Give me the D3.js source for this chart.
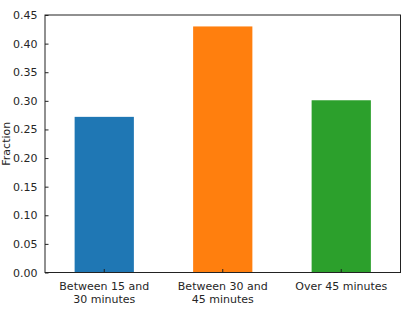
<!DOCTYPE html>
<html>
<head>
<meta charset="utf-8">
<script src="https://cdn.jsdelivr.net/npm/d3@7"></script>
<style>
  body { margin: 0; background: #fff; }
  svg text { font-family: "DejaVu Sans", sans-serif; fill: #262626; }
</style>
</head>
<body>
<div id="chart"></div>
<script>
// Commute time categories and their share
const categories = [["Between 15 and", "30 minutes"], ["Between 30 and", "45 minutes"], ["Over 45 minutes"]];
const fractions = [0.272, 0.43, 0.301];
const barColors = ["#1f77b4", "#ff7f0e", "#2ca02c"];
const yTicks = [0, 0.05, 0.1, 0.15, 0.2, 0.25, 0.3, 0.35, 0.4, 0.45];

const width = 415, height = 312;
const margin = {top: 15, right: 14.5, bottom: 39.5, left: 45};
const fontSize = 11;

const svg = d3.select('#chart').append('svg')
  .attr('width', width)
  .attr('height', height);

const x = d3.scaleBand()
  .domain(d3.range(categories.length))
  .range([margin.left, width - margin.right])
  .paddingInner(0.5)
  .paddingOuter(0.25);

const y = d3.scaleLinear()
  .domain([0, 0.45])
  .range([height - margin.bottom, margin.top]);

// Bars
svg.append('g').selectAll('rect')
  .data(fractions)
  .join('rect')
  .attr('x', (d, i) => x(i))
  .attr('y', d => y(d))
  .attr('width', x.bandwidth())
  .attr('height', d => y(0) - y(d))
  .attr('fill', (d, i) => barColors[i]);

// Frame
svg.append('rect')
  .attr('x', margin.left)
  .attr('y', margin.top)
  .attr('width', width - margin.right - margin.left)
  .attr('height', height - margin.bottom - margin.top)
  .attr('fill', 'none')
  .attr('stroke', '#222')
  .attr('stroke-width', 1);

// Y axis, ticks pointing in
const yAxis = svg.append('g')
  .attr('transform', `translate(${margin.left},0)`)
  .call(d3.axisRight(y).tickValues(yTicks).tickFormat(d3.format('.2f')).tickSize(3.5));
yAxis.select('.domain').remove();
yAxis.selectAll('.tick line').attr('stroke', '#222');
yAxis.selectAll('.tick text')
  .attr('x', -7.5)
  .attr('text-anchor', 'end')
  .attr('font-size', fontSize);

// X axis, ticks pointing in
const xAxis = svg.append('g')
  .attr('transform', `translate(0,${height - margin.bottom})`)
  .call(d3.axisTop(x).tickFormat('').tickSize(3.5)
    .tickValues(d3.range(categories.length)));
xAxis.select('.domain').remove();
xAxis.selectAll('.tick').attr('transform', d => `translate(${x(d) + x.bandwidth() / 2},0)`);
xAxis.selectAll('.tick line').attr('stroke', '#222');

// Wrapped category labels
svg.append('g').selectAll('text')
  .data(categories)
  .join('text')
  .attr('x', (d, i) => x(i) + x.bandwidth() / 2)
  .attr('y', height - margin.bottom + 17)
  .attr('text-anchor', 'middle')
  .attr('font-size', fontSize)
  .selectAll('tspan')
  .data(d => d)
  .join('tspan')
  .attr('x', function() { return this.parentNode.getAttribute('x'); })
  .attr('dy', (d, i) => i === 0 ? 0 : 13.3)
  .text(d => d);

// Y label
svg.append('text')
  .attr('transform', `translate(10,${(margin.top + height - margin.bottom) / 2}) rotate(-90)`)
  .attr('text-anchor', 'middle')
  .attr('font-size', fontSize)
  .text('Fraction');
</script>
</body>
</html>
